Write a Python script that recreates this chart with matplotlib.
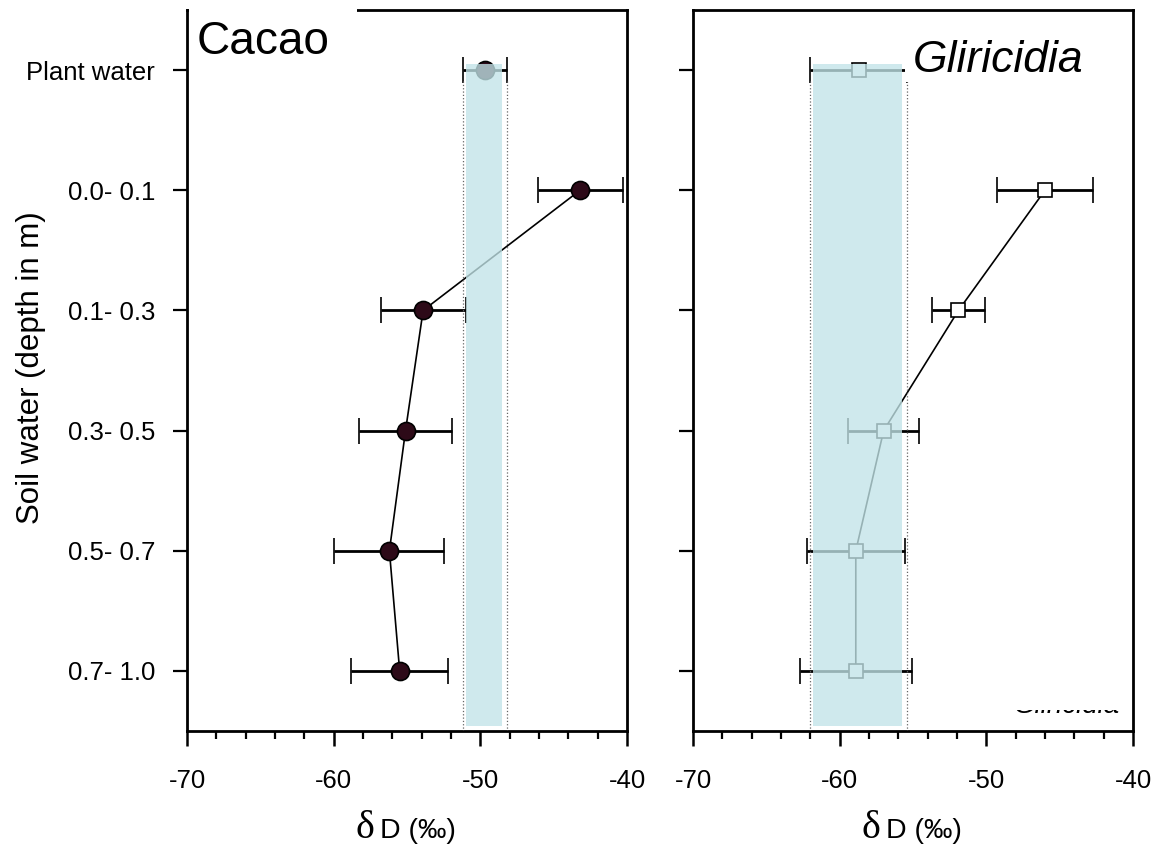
import matplotlib
matplotlib.use("Agg")
import matplotlib.pyplot as plt
from matplotlib.patches import Rectangle
from matplotlib.ticker import MultipleLocator

plt.rcParams["font.family"] = ["Liberation Sans", "DejaVu Sans"]
plt.rcParams["axes.unicode_minus"] = False

# ---------------- Data (dD, per mil) ----------------
layers = ["Plant water", "0.0- 0.1", "0.1- 0.3", "0.3- 0.5", "0.5- 0.7", "0.7- 1.0"]

cacao_plant = -49.7
cacao_plant_sd = 1.5
cacao_soil = [-43.2, -53.9, -55.1, -56.2, -55.5]
cacao_soil_sd = [2.9, 2.9, 3.2, 3.75, 3.3]

glir_plant = -58.7
glir_plant_sd = 3.3
glir_soil = [-46.0, -51.9, -57.0, -58.9, -58.9]
glir_soil_sd = [3.3, 1.8, 2.4, 3.35, 3.8]

xticks = [-70, -60, -50, -40]

W, H = 1160, 852
fig = plt.figure(figsize=(W / 100, H / 100), dpi=100)
ax1 = fig.add_axes([187 / W, 1 - 731 / H, 440 / W, 721 / H])
ax2 = fig.add_axes([693 / W, 1 - 731 / H, 440 / W, 721 / H])

soil_pos = list(range(1, len(layers)))
band_color = "#c2e4e8"


def draw_panel(ax, plant, plant_sd, soil, soil_sd, marker, mfc, ms):
    eb = dict(color="black", mec="black", mew=1.2, elinewidth=2.0,
              capsize=9.5, capthick=2.2, zorder=3)
    ax.errorbar([plant], [0], xerr=[plant_sd], fmt=marker, mfc=mfc, ms=ms, **eb)
    ax.errorbar(soil, soil_pos, xerr=soil_sd, fmt=marker + "-", lw=1.2,
                mfc=mfc, ms=ms, **eb)

    # plant water range (mean +/- sd) carried down through the soil profile
    lo, hi = plant - plant_sd, plant + plant_sd
    ax.fill_betweenx([-0.05, 5.46], lo + 0.2, hi - 0.35, color=band_color,
                     alpha=0.78, lw=0, zorder=4)
    ax.vlines([lo, hi], 0.09, 5.5, colors="#666666", linestyles=":", lw=0.9, zorder=4)

    ax.set_xlim(-70, -40)
    ax.set_ylim(5.5, -0.5)
    ax.set_xticks(xticks)
    ax.set_xticklabels([str(v) for v in xticks], fontsize=18.5)
    ax.xaxis.set_minor_locator(MultipleLocator(2))
    ax.set_yticks(range(len(layers)))
    ax.tick_params(axis="x", which="major", direction="out", length=11, width=1.8, pad=16)
    ax.tick_params(axis="x", which="minor", direction="out", length=6, width=1.6)
    ax.tick_params(axis="y", direction="out", length=10, width=1.6, pad=13,
                   left=True, right=False)
    for sp in ax.spines.values():
        sp.set_linewidth(2)

    ax.text(0.426, -0.148, "\u03b4", transform=ax.transAxes, ha="right", va="baseline",
            fontsize=29, family=["Liberation Serif", "DejaVu Serif"])
    ax.text(0.438, -0.148, "D (\u2030)", transform=ax.transAxes, ha="left",
            va="baseline", fontsize=20.5)


draw_panel(ax1, cacao_plant, cacao_plant_sd, cacao_soil, cacao_soil_sd, "o", "#2d0a18", 13)
draw_panel(ax2, glir_plant, glir_plant_sd, glir_soil, glir_soil_sd, "s", "white", 10)

ax1.set_yticklabels(layers, fontsize=18.5)
ax2.set_yticklabels([])

# panel titles on white boxes
ax1.add_patch(Rectangle((0.005, 0.931), 0.381, 0.075, transform=ax1.transAxes,
                        facecolor="white", edgecolor="none", clip_on=False, zorder=6))
ax1.text(0.023, 0.939, "Cacao", transform=ax1.transAxes, fontsize=33,
         va="baseline", ha="left", zorder=7)

ax2.add_patch(Rectangle((0.482, 0.900), 0.44, 0.075, transform=ax2.transAxes,
                        facecolor="white", edgecolor="none", zorder=6))
ax2.text(0.50, 0.914, "Gliricidia", transform=ax2.transAxes, fontsize=32,
         style="italic", va="baseline", ha="left", zorder=7)

# leftover legend entry, mostly hidden
ax2.text(0.85, 0.025, "Gliricidia", transform=ax2.transAxes, fontsize=20,
         style="italic", va="baseline", ha="center", zorder=2)
ax2.add_patch(Rectangle((0.7, 0.0295), 0.29, 0.07, transform=ax2.transAxes,
                        facecolor="white", edgecolor="none", zorder=2.2))

fig.text(31 / W, 1 - 368 / H, "Soil water (depth in m)", rotation=90,
         ha="center", va="center", fontsize=22.5)

fig.savefig("out.png", dpi=100)
